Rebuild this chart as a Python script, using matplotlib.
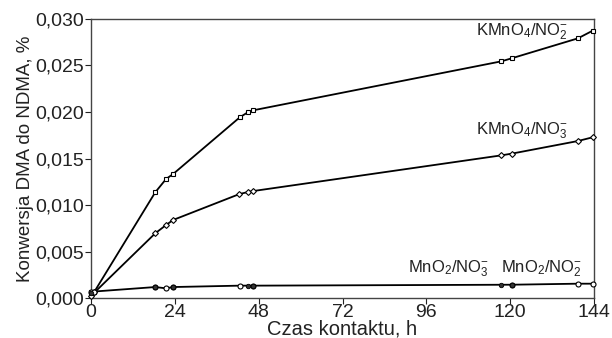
import matplotlib
matplotlib.use("Agg")
import matplotlib.pyplot as plt

plt.rcParams['font.family'] = ['Liberation Sans', 'DejaVu Sans']
plt.rcParams['mathtext.fontset'] = 'custom'
plt.rcParams['mathtext.rm'] = 'Liberation Sans'
plt.rcParams['mathtext.it'] = 'Liberation Sans'

# KMnO4/NO2- (squares)
h_kno2 = [0, 1, 18.4, 21.5, 23.5, 42.6, 44.9, 46.4, 117.5, 120.4, 139.4, 143.6]
v_kno2 = [0.0006, 0.0007, 0.01137, 0.0128, 0.01333, 0.01943, 0.01997, 0.02018, 0.02545, 0.02577, 0.02792, 0.02874]
# KMnO4/NO3- (diamonds)
h_kno3 = [0, 1, 18.4, 21.5, 23.5, 42.5, 45.0, 46.4, 117.5, 120.4, 139.4, 143.6]
v_kno3 = [0.0002, 0.0006, 0.00696, 0.00785, 0.00839, 0.01118, 0.0114, 0.0115, 0.01534, 0.01552, 0.01688, 0.01728]
# MnO2/NO3- (filled circles)
h_mno3 = [0, 18.4, 23.5, 44.9, 46.4, 117.5, 120.4]
v_mno3 = [0.0005, 0.00115, 0.00115, 0.00126, 0.0013, 0.00136, 0.0014]
# MnO2/NO2- (open circles)
h_mno2 = [0, 1, 18.4, 21.5, 23.5, 42.6, 46.4, 120.4, 139.4, 143.6]
v_mno2 = [0.0006, 0.0007, 0.00118, 0.00104, 0.00118, 0.00133, 0.00133, 0.00143, 0.00154, 0.00154]

xticks = [0, 24, 48, 72, 96, 120, 144]
yticks = [0.000, 0.005, 0.010, 0.015, 0.020, 0.025, 0.030]
ytick_labels = ['0,000', '0,005', '0,010', '0,015', '0,020', '0,025', '0,030']

fig = plt.figure(figsize=(6.12, 3.38), dpi=100)
ax = fig.add_axes([0.1487, 0.1183, 0.8219, 0.8255])

lw = 1.3
ax.plot(h_kno2, v_kno2, color='black', lw=lw, marker='s', ms=3.3, mfc='white', mec='black', mew=0.8, clip_on=False, zorder=3)
ax.plot(h_kno3, v_kno3, color='black', lw=lw, marker='D', ms=3.0, mfc='white', mec='black', mew=0.8, clip_on=False, zorder=3)
ax.plot(h_mno2, v_mno2, color='black', lw=lw, marker='o', ms=3.6, mfc='white', mec='black', mew=0.8, clip_on=False, zorder=3)
ax.plot(h_mno3, v_mno3, color='black', lw=lw, marker='o', ms=3.2, mfc='#333333', mec='black', mew=0.6, clip_on=False, zorder=4, linestyle='none')

ax.set_xlim(0, 144)
ax.set_ylim(0, 0.030)
ax.set_xticks(xticks)
ax.set_xticklabels([str(t) for t in xticks])
ax.set_yticks(yticks)
ax.set_yticklabels(ytick_labels)
ax.tick_params(axis='both', direction='out', length=4, width=0.8, labelsize=14, colors='#222222', pad=1)
ax.tick_params(axis='x', pad=0)
for s in ax.spines.values():
    s.set_linewidth(1.0)
    s.set_color('#444444')

ax.set_xlabel('Czas kontaktu, h', fontsize=14.5, labelpad=-1, color='#222222')
ax.set_ylabel('Konwersja DMA do NDMA, %', fontsize=13.5, labelpad=1, color='#222222')

tk = dict(fontsize=12, color='#222222')
ax.text(136.5, 0.0286, r'KMnO$_4$/NO$_2^{-}$', ha='right', va='center', **tk)
ax.text(136.5, 0.0180, r'KMnO$_4$/NO$_3^{-}$', ha='right', va='center', **tk)
ax.text(114, 0.0032, r'MnO$_2$/NO$_3^{-}$', ha='right', va='center', **tk)
ax.text(140.5, 0.0032, r'MnO$_2$/NO$_2^{-}$', ha='right', va='center', **tk)

fig.savefig('out.png', dpi=100)
